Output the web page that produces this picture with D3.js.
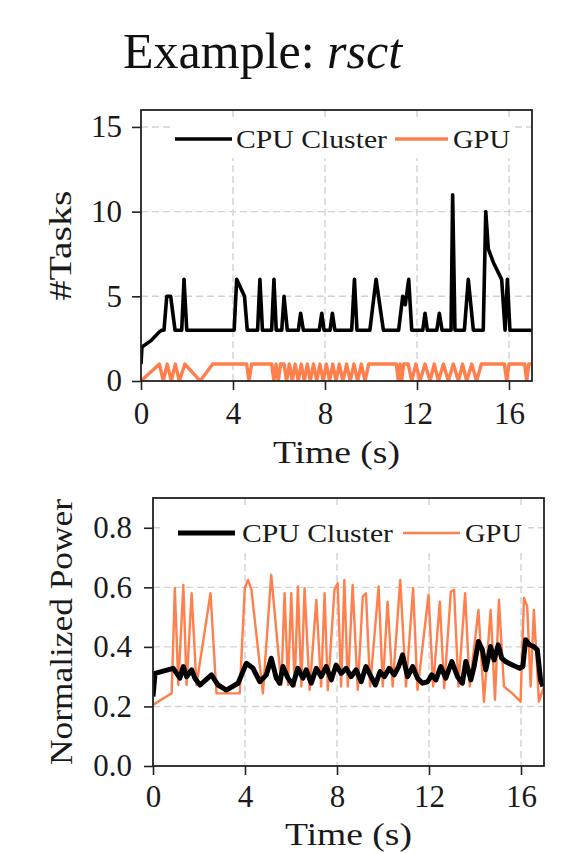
<!doctype html>
<html>
<head>
<meta charset="utf-8">
<title>Example: rsct</title>
<script src="https://cdn.jsdelivr.net/npm/d3@7"></script>
<style>
  body { margin: 0; background: #fff; }
  svg { display: block; font-family: "Liberation Serif", "Times New Roman", serif; }
  .grid line { stroke: #d2d2d2; stroke-width: 1.4; stroke-dasharray: 7,4; }
  .axis .tick text { font-size: 31px; fill: #1a1a1a; }
  .axis .tick line { stroke: #222; stroke-width: 1.6; }
</style>
</head>
<body>
<svg id="chart" width="587" height="853"></svg>
<script>
// ---- data ----
var xTicks = [0, 4, 8, 12, 16];
var tasksTicks = [0, 5, 10, 15];
var powerTicks = [0, 0.2, 0.4, 0.6, 0.8];
var seriesNames = ["CPU Cluster", "GPU"];

// #Tasks over time [s, count]
var cpuTasks = [
  [0, 1.0], [0.04, 2.0], [0.45, 2.4], [0.8, 2.9], [0.9, 3], [1.0, 3], [1.12, 5], [1.29, 5], [1.48, 3],
  [1.77, 3], [1.87, 6], [1.99, 3], [4.05, 3], [4.16, 6], [4.5, 5], [4.62, 3], [5.07, 3], [5.17, 6],
  [5.28, 3], [5.68, 3], [5.78, 6], [5.88, 3], [6.12, 3], [6.22, 5], [6.36, 3], [6.84, 3], [6.94, 4],
  [7.06, 3], [7.75, 3], [7.86, 4], [7.96, 3], [8.22, 3], [8.32, 4], [8.43, 3], [9.16, 3], [9.28, 6],
  [9.39, 3], [9.95, 3], [10.22, 6], [10.54, 3], [11.2, 3], [11.38, 5], [11.49, 4.5], [11.64, 6],
  [11.77, 3], [12.25, 3], [12.35, 4], [12.45, 3], [12.86, 3], [12.97, 4], [13.09, 3], [13.48, 3],
  [13.55, 11], [13.65, 3], [14.06, 3], [14.23, 6], [14.45, 3], [14.88, 3], [14.99, 10], [15.1, 7.8],
  [15.32, 7], [15.68, 6], [15.83, 3], [15.93, 6], [16.04, 3], [17, 3]
];
var gpuTasks = [
  [0, 0], [0.80, 1], [0.97, 0], [1.14, 1], [1.32, 0], [1.49, 1], [1.67, 0], [1.91, 1], [2.57, 0],
  [3.12, 1], [4.59, 1], [4.70, 0], [4.81, 1], [5.68, 1], [5.78, 0], [5.87, 1], [5.97, 0], [6.07, 1],
  [6.22, 1], [6.33, 0], [6.45, 1], [6.58, 0], [6.70, 1], [6.84, 0], [6.97, 1], [7.10, 0], [7.23, 1],
  [7.36, 0], [7.50, 1], [7.64, 0], [7.78, 1], [7.92, 0], [8.06, 1], [8.20, 0], [8.34, 1], [8.48, 0],
  [8.62, 1], [8.78, 0], [8.94, 1], [9.10, 0], [9.26, 1], [9.42, 0], [9.58, 1], [9.74, 0], [9.90, 1],
  [11.10, 1], [11.19, 0], [11.26, 1], [11.33, 0], [11.42, 1], [11.62, 1], [11.77, 0], [11.95, 1],
  [12.13, 0], [12.35, 1], [12.57, 0], [12.75, 1], [12.93, 0], [13.15, 1], [13.36, 0], [13.58, 1],
  [13.80, 0], [13.98, 1], [14.16, 0], [14.38, 1], [14.59, 0], [14.80, 1], [15.80, 1], [15.90, 0],
  [16.00, 1], [16.68, 1], [16.77, 0], [16.86, 1], [17, 1]
];

// Normalized power over time [s, power]
var cpuPower = [
  [0, 0.233], [0.09, 0.311], [0.88, 0.328], [1.17, 0.295], [1.32, 0.334], [1.46, 0.300], [1.68, 0.323],
  [1.82, 0.295], [2.04, 0.272], [2.54, 0.306], [2.83, 0.272], [3.19, 0.255], [3.70, 0.278], [4.06, 0.345],
  [4.35, 0.328], [4.64, 0.283], [4.93, 0.306], [5.14, 0.362], [5.36, 0.295], [5.51, 0.278], [5.65, 0.334],
  [5.87, 0.295], [6.08, 0.272], [6.30, 0.328], [6.52, 0.295], [6.66, 0.323], [6.88, 0.278], [7.10, 0.328],
  [7.31, 0.300], [7.53, 0.334], [7.75, 0.289], [7.96, 0.339], [8.18, 0.311], [8.40, 0.328], [8.61, 0.300],
  [8.83, 0.323], [9.05, 0.283], [9.26, 0.334], [9.48, 0.300], [9.67, 0.272], [9.87, 0.317], [10.06, 0.300],
  [10.27, 0.328], [10.49, 0.306], [10.68, 0.334], [10.85, 0.373], [11.07, 0.300], [11.29, 0.334],
  [11.50, 0.295], [11.72, 0.278], [11.94, 0.283], [12.12, 0.306], [12.30, 0.289], [12.51, 0.334],
  [12.73, 0.295], [12.99, 0.351], [13.24, 0.300], [13.45, 0.278], [13.60, 0.351], [13.82, 0.289],
  [13.96, 0.334], [14.15, 0.418], [14.32, 0.390], [14.47, 0.323], [14.68, 0.401], [14.83, 0.356],
  [15.01, 0.407], [15.16, 0.362], [15.33, 0.351], [15.62, 0.339], [15.94, 0.328], [16.08, 0.334],
  [16.20, 0.424], [16.37, 0.407], [16.56, 0.401], [16.71, 0.390], [16.85, 0.289], [16.95, 0.267]
];
var gpuPower = [
  [0, 0.205], [0.81, 0.244], [0.95, 0.597], [1.10, 0.272], [1.32, 0.608], [1.46, 0.272], [1.68, 0.580],
  [1.89, 0.272], [2.50, 0.580], [2.76, 0.244], [3.77, 0.244], [3.99, 0.597], [4.13, 0.625], [4.28, 0.592],
  [4.78, 0.244], [5.14, 0.642], [5.58, 0.272], [5.72, 0.580], [5.87, 0.272], [6.01, 0.580], [6.16, 0.267],
  [6.30, 0.603], [6.45, 0.267], [6.59, 0.597], [6.81, 0.255], [7.10, 0.558], [7.31, 0.267], [7.46, 0.580],
  [7.60, 0.255], [7.89, 0.592], [8.03, 0.614], [8.18, 0.267], [8.32, 0.625], [8.47, 0.267], [8.68, 0.608],
  [8.90, 0.255], [9.12, 0.569], [9.26, 0.580], [9.44, 0.267], [9.81, 0.603], [9.99, 0.267], [10.20, 0.552],
  [10.42, 0.267], [10.75, 0.625], [11.00, 0.267], [11.31, 0.597], [11.50, 0.255], [11.98, 0.575],
  [12.18, 0.267], [12.47, 0.552], [12.66, 0.261], [12.95, 0.586], [13.09, 0.592], [13.28, 0.267],
  [13.57, 0.580], [13.77, 0.267], [14.15, 0.524], [14.39, 0.216], [14.68, 0.524], [14.87, 0.222],
  [15.04, 0.558], [15.26, 0.267], [15.62, 0.244], [15.98, 0.216], [16.13, 0.564], [16.27, 0.536],
  [16.42, 0.267], [16.56, 0.524], [16.78, 0.216], [17.0, 0.267]
];

var cpuColor = "#000000";
var gpuColor = "#ff7f4d";

var svg = d3.select("#chart");

// title
var title = svg.append("text").attr("x", 123).attr("y", 68)
  .style("font-size", "50px").attr("fill", "#111");
title.append("tspan").text("Example: ");
title.append("tspan").style("font-style", "italic").text("rsct");

function drawPanel(p) {
  var x = d3.scaleLinear().domain([0, 17]).range([p.left, p.right]);
  var y = d3.scaleLinear().domain(p.yDomain).range([p.bottom, p.top]);
  var g = svg.append("g");

  g.append("clipPath").attr("id", "clip-" + p.id).append("rect")
    .attr("x", p.left).attr("y", p.top)
    .attr("width", p.right - p.left).attr("height", p.bottom - p.top);

  // grid
  g.append("g").attr("class", "grid").selectAll("line")
    .data(xTicks.filter(function(d) { return d > 0; })).join("line")
    .attr("x1", function(d) { return x(d); }).attr("x2", function(d) { return x(d); })
    .attr("y1", p.top).attr("y2", p.bottom);
  g.append("g").attr("class", "grid").selectAll("line")
    .data(p.yTicks.filter(function(d) { return d > 0; })).join("line")
    .attr("y1", function(d) { return y(d); }).attr("y2", function(d) { return y(d); })
    .attr("x1", p.left).attr("x2", p.right);

  // series
  var line = d3.line().x(function(d) { return x(d[0]); }).y(function(d) { return y(d[1]); });
  var lines = g.append("g").attr("clip-path", "url(#clip-" + p.id + ")");
  lines.append("path").datum(p.gpu).attr("d", line)
    .attr("fill", "none").attr("stroke", gpuColor).attr("stroke-width", p.gpuWidth)
    .attr("stroke-linejoin", "round");
  lines.append("path").datum(p.cpu).attr("d", line)
    .attr("fill", "none").attr("stroke", cpuColor).attr("stroke-width", p.cpuWidth)
    .attr("stroke-linejoin", "round");

  // legend
  var lg = p.legend;
  g.append("rect").attr("x", lg.box[0]).attr("y", lg.box[1])
    .attr("width", lg.box[2] - lg.box[0]).attr("height", lg.box[3] - lg.box[1])
    .attr("fill", "#fff");
  var items = [
    { name: seriesNames[0], color: cpuColor, width: p.cpuWidth, line: lg.cpuLine, tx: lg.cpuText, tw: 151 },
    { name: seriesNames[1], color: gpuColor, width: p.gpuWidth, line: lg.gpuLine, tx: lg.gpuText, tw: 57 }
  ];
  items.forEach(function(it) {
    g.append("line").attr("x1", it.line[0]).attr("x2", it.line[1])
      .attr("y1", lg.y).attr("y2", lg.y)
      .attr("stroke", it.color).attr("stroke-width", it.width);
    g.append("text").attr("x", it.tx).attr("y", lg.y + 9)
      .style("font-size", "26px").attr("fill", "#1a1a1a")
      .attr("textLength", it.tw).attr("lengthAdjust", "spacingAndGlyphs")
      .text(it.name);
  });

  // axes
  var xa = g.append("g").attr("class", "axis")
    .attr("transform", "translate(0," + p.bottom + ")")
    .call(d3.axisBottom(x).tickValues(xTicks).tickSize(9).tickSizeOuter(0).tickPadding(p.xPad));
  xa.select(".domain").remove();
  var ya = g.append("g").attr("class", "axis")
    .attr("transform", "translate(" + p.left + ",0)")
    .call(d3.axisLeft(y).tickValues(p.yTicks).tickSize(9).tickSizeOuter(0)
      .tickPadding(p.yPad).tickFormat(p.yFormat));
  ya.select(".domain").remove();
  svg.selectAll(".axis").attr("font-family", null).attr("font-size", null);

  // frame
  g.append("rect").attr("x", p.left).attr("y", p.top)
    .attr("width", p.right - p.left).attr("height", p.bottom - p.top)
    .attr("fill", "none").attr("stroke", "#222").attr("stroke-width", 1.8);

  // axis titles
  g.append("text").attr("text-anchor", "middle")
    .attr("x", (p.left + p.right) / 2).attr("y", p.xTitleY)
    .style("font-size", "31px").attr("fill", "#1a1a1a")
    .attr("textLength", 127).attr("lengthAdjust", "spacingAndGlyphs")
    .text("Time (s)");
  g.append("text").attr("text-anchor", "middle")
    .attr("transform", "translate(" + p.yTitleX + "," + (p.top + p.bottom) / 2 + ") rotate(-90)")
    .style("font-size", "31px").attr("fill", "#1a1a1a")
    .attr("textLength", p.yTitleLen).attr("lengthAdjust", "spacingAndGlyphs")
    .text(p.yTitle);
}

drawPanel({
  id: "tasks", left: 141, right: 532, top: 110, bottom: 381,
  yDomain: [0, 16], yTicks: tasksTicks, yFormat: d3.format("d"),
  cpu: cpuTasks, gpu: gpuTasks, cpuWidth: 3.6, gpuWidth: 3.4,
  xPad: 12, yPad: 10, xTitleY: 463,
  yTitle: "#Tasks", yTitleX: 71, yTitleLen: 110,
  legend: { y: 139, box: [170, 119, 514, 158], cpuLine: [175, 232], cpuText: 236,
            gpuLine: [395, 448], gpuText: 453 }
});

drawPanel({
  id: "power", left: 153, right: 544, top: 498, bottom: 766,
  yDomain: [0, 0.9], yTicks: powerTicks, yFormat: d3.format(".1f"),
  cpu: cpuPower, gpu: gpuPower, cpuWidth: 5, gpuWidth: 2.4,
  xPad: 10, yPad: 12, xTitleY: 845,
  yTitle: "Normalized Power", yTitleX: 72, yTitleLen: 266,
  legend: { y: 533, box: [163, 505, 528, 551], cpuLine: [178, 235], cpuText: 242,
            gpuLine: [403, 460], gpuText: 465 }
});
</script>
</body>
</html>
